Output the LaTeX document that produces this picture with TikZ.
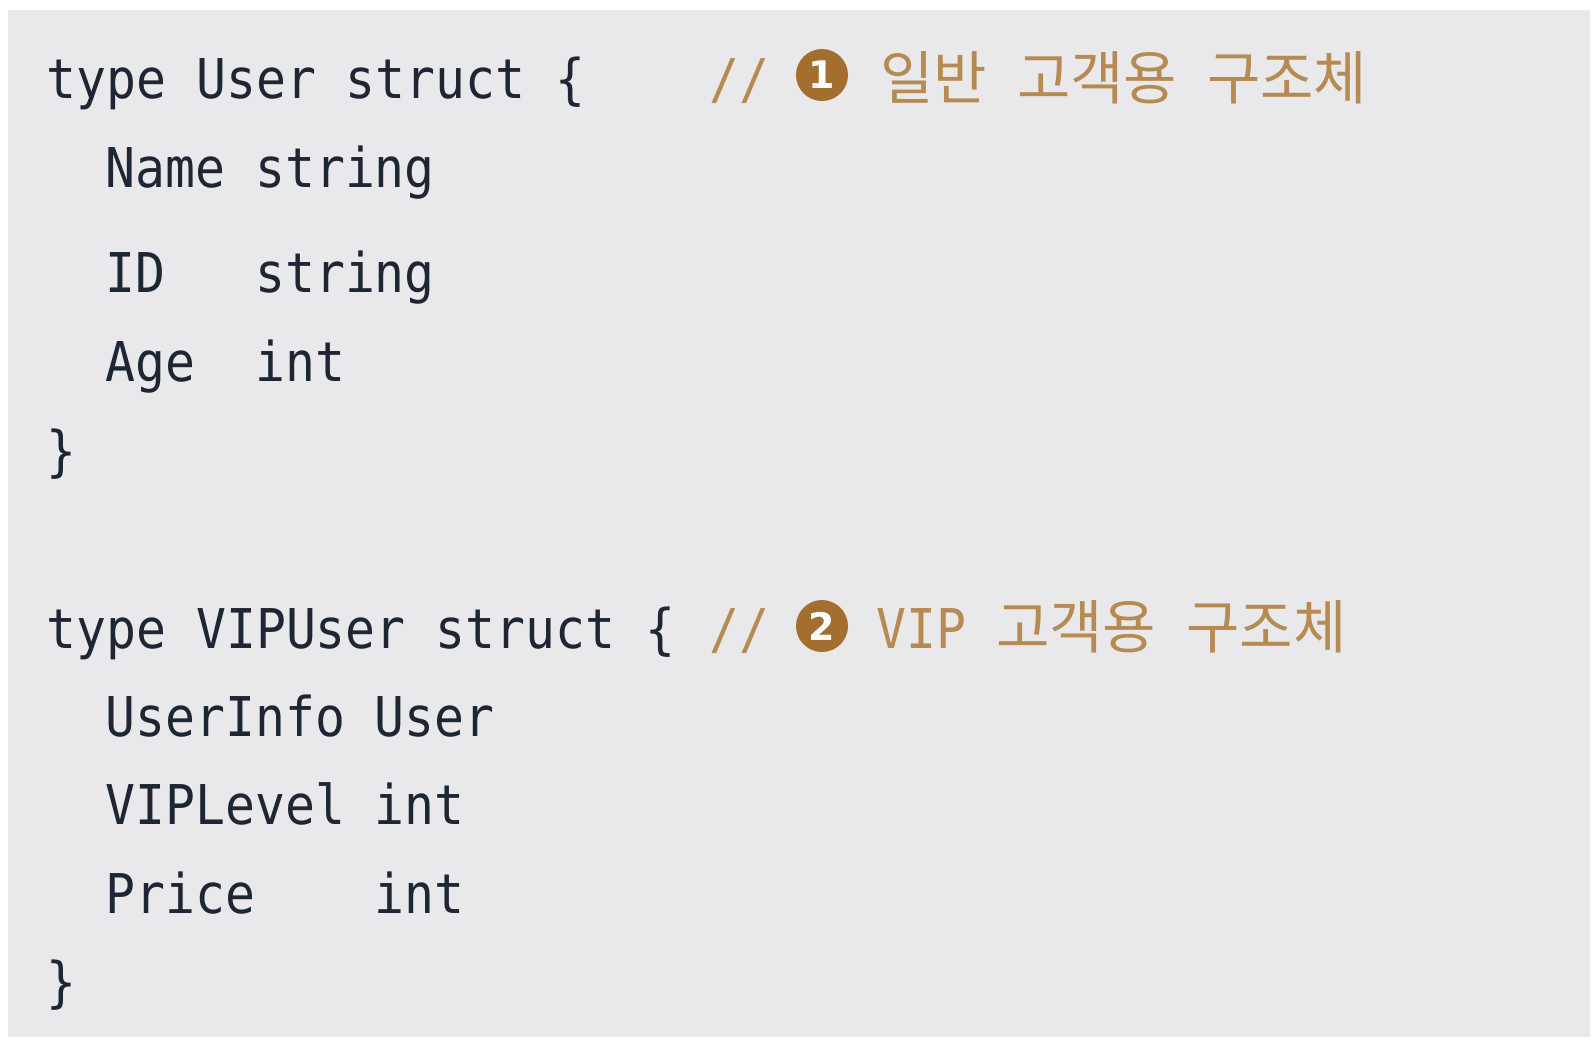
\documentclass[tikz,border=0pt]{standalone}
\usepackage{fontspec}
\usetikzlibrary{positioning}
\newfontfamily\codefont{DejaVu Sans Mono}[FakeStretch=0.908]
\newfontfamily\korfont{Noto Sans CJK KR}
\newfontfamily\numfont{DejaVu Sans}
\definecolor{bggray}{HTML}{E9E9EB}
\definecolor{codeink}{HTML}{1F2633}
\definecolor{cmtbrown}{HTML}{B68A50}
\definecolor{badgebrown}{HTML}{A46F2E}
\begin{document}
\begin{tikzpicture}[x=0.5pt, y=-0.5pt, line join=round, line cap=round,
	code/.style={anchor=base west, inner sep=0pt, text=codeink, font=\codefont\fontsize{27.4}{30}\selectfont},
	cmt/.style={anchor=base west, inner sep=0pt, text=cmtbrown, font=\codefont\fontsize{27.4}{30}\selectfont},
	badge/.style={circle, fill=badgebrown, inner sep=0pt, minimum size=26pt, text=white, font=\numfont\bfseries\fontsize{19}{19}\selectfont}]
	\def\xl{46} \def\xi{105} % lề trái, thụt lề
	\def\xc{709} \def\gap{15pt}
	\useasboundingbox (0,0) rectangle (1594,1040);
	\fill[bggray] (8,10) rectangle (1590,1037);
	% struct 1
	\node[code] (u1) at (\xl,98) {type User struct \{};
	\node[code] (u2) at (\xi,187) {Name string};
	\node[code] (u3) at (\xi,292) {ID~~~string};
	\node[code] (u4) at (\xi,381) {Age~~int};
	\node[code] (u5) at (\xl,470) {\}};
	\node[cmt] (c1) at (\xc,98) {//};
	\node[badge] (b1) at (822,75) {1};
	\node[cmt] (t1) at (880,99) {{\korfont\fontsize{29}{30}\selectfont 일반\hspace{\gap}고객용\hspace{\gap}구조체}};
	% struct 2
	\node[code] (v1) at (\xl,648) {type VIPUser struct \{};
	\node[code] (v2) at (\xi,736) {UserInfo User};
	\node[code] (v3) at (\xi,824) {VIPLevel int};
	\node[code] (v4) at (\xi,913) {Price~~~~int};
	\node[code] (v5) at (\xl,1001) {\}};
	\node[cmt] (c2) at (\xc,648) {//};
	\node[badge] (b2) at (822,626) {2};
	\node[cmt] (t2) at (876,648) {VIP {\korfont\fontsize{29}{30}\selectfont 고객용\hspace{\gap}구조체}};
\end{tikzpicture}
\end{document}
